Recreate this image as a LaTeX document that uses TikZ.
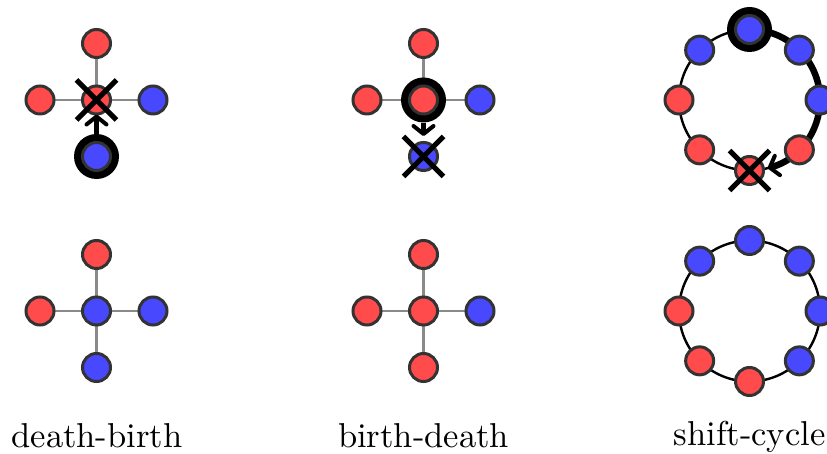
\documentclass[tikz,border=0pt]{standalone}
\usetikzlibrary{arrows.meta,shapes.misc}
\pgfdeclarelayer{background}
\pgfsetlayers{background,main}
\definecolor{nred}{HTML}{FF4B4B}
\definecolor{nblue}{HTML}{4848FF}
\definecolor{nborder}{HTML}{333333}
\definecolor{edgegray}{HTML}{8A8A8A}
\tikzset{
  agent/.style={circle, draw=nborder, line width=3pt, minimum size=28pt, inner sep=0pt},
  R/.style={agent, fill=nred},
  B/.style={agent, fill=nblue},
  halo/.style={circle, fill=black, minimum size=45pt, inner sep=0pt},
  link/.style={draw=edgegray, line width=2.4pt},
  ringline/.style={draw=black, line width=2.4pt},
  barbtip/.style={-{Straight Barb[length=8pt,width=20pt,line width=4pt,round]}},
  movearrow/.style={draw=black, line width=5pt, barbtip},
  cyclearrow/.style={draw=black, line width=6.5pt, barbtip},
  killmark/.style={cross out, draw=black, line width=5pt, minimum size=35pt, inner sep=0pt},
  caption/.style={anchor=base, font=\fontsize{10}{12}\selectfont, scale=3.455, transform shape, inner sep=0pt},
}
\begin{document}
\begin{tikzpicture}[x=1pt,y=1pt]
\useasboundingbox (0,0) rectangle (827,454);

% ---------- death-birth, top ----------
\node[halo] (h1) at (96.5,297.5) {};
\node[B] (b1) at (h1) {};
\node[R] (c1) at (96.5,354) {};
\node[R] (t1) at (96.5,410.5) {};
\node[R] (l1) at (40,354) {};
\node[B] (r1) at (153,354) {};
\begin{pgfonlayer}{background}
  \draw[link] (c1.center) -- (t1.center);
  \draw[link] (c1.center) -- (l1.center);
  \draw[link] (c1.center) -- (r1.center);
\end{pgfonlayer}
\draw[movearrow, shorten >=-1pt] (h1) -- (c1);
\node[killmark] at (c1) {};

% ---------- death-birth, bottom ----------
\node[B] (c3) at (96.5,143) {};
\node[R] (t3) at (96.5,199.5) {};
\node[R] (l3) at (40,143) {};
\node[B] (r3) at (153,143) {};
\node[B] (b3) at (96.5,86.5) {};
\begin{pgfonlayer}{background}
  \foreach \n in {t3,l3,r3,b3} \draw[link] (c3.center) -- (\n.center);
\end{pgfonlayer}

% ---------- birth-death, top ----------
\node[halo] (h2) at (423.5,354) {};
\node[R] (c2) at (h2) {};
\node[R] (t2) at (423.5,410.5) {};
\node[R] (l2) at (367,354) {};
\node[B] (r2) at (480,354) {};
\node[B] (b2) at (423.5,297.5) {};
\begin{pgfonlayer}{background}
  \draw[link] (c2.center) -- (t2.center);
  \draw[link] (c2.center) -- (l2.center);
  \draw[link] (c2.center) -- (r2.center);
\end{pgfonlayer}
\draw[movearrow, shorten >=5pt] (h2) -- (b2);
\node[killmark] at (b2) {};

% ---------- birth-death, bottom ----------
\node[R] (c4) at (423.5,143) {};
\node[R] (t4) at (423.5,199.5) {};
\node[R] (l4) at (367,143) {};
\node[B] (r4) at (480,143) {};
\node[R] (b4) at (423.5,86.5) {};
\begin{pgfonlayer}{background}
  \foreach \n in {t4,l4,r4,b4} \draw[link] (c4.center) -- (\n.center);
\end{pgfonlayer}

% ---------- shift-cycle, top ----------
\coordinate (ru) at (749.5,354);
\coordinate (ut) at ([shift={(90:70.5)}]ru);
\draw[ringline] (ru) circle[radius=70.5];
\draw[cyclearrow] (ut) arc[start angle=90, end angle=-75, radius=70.5];
\node[halo] (hu) at (ut) {};
\foreach \a/\c [count=\i] in {90/B,45/B,0/B,-45/R,-90/R,-135/R,180/R,135/B}
  \node[\c] (u\i) at ([shift={(\a:70.5)}]ru) {};
\node[killmark] at (u5) {};

% ---------- shift-cycle, bottom ----------
\coordinate (rd) at (749.5,143);
\draw[ringline] (rd) circle[radius=70.5];
\foreach \a/\c [count=\i] in {90/B,45/B,0/B,-45/B,-90/R,-135/R,180/R,135/B}
  \node[\c] (d\i) at ([shift={(\a:70.5)}]rd) {};

% ---------- captions ----------
\node[caption] (cap1) at (97,6.3) {death-birth};
\node[caption] (cap2) at (423.5,6.3) {birth-death};
\node[caption] (cap3) at (749.5,8.7) {shift-cycle};
\end{tikzpicture}
\end{document}
